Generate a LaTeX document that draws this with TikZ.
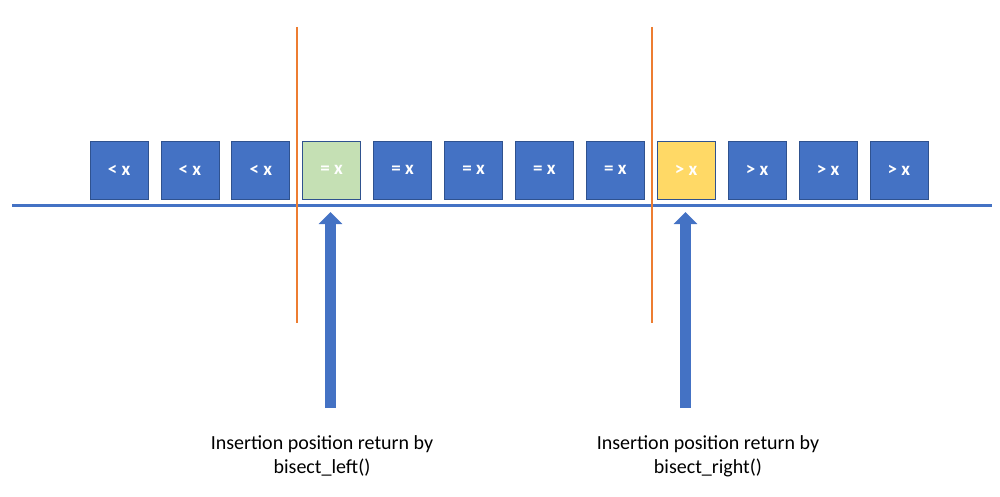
\documentclass[tikz,border=0pt]{standalone}
\usepackage{fontspec}
\setmainfont{Carlito}
\usetikzlibrary{arrows.meta}

\definecolor{cellblue}{HTML}{4472C4}
\definecolor{cellline}{HTML}{2F528F}
\definecolor{cellgreen}{HTML}{C5E0B4}
\definecolor{cellyellow}{HTML}{FFD966}
\definecolor{cutorange}{HTML}{ED7D31}

\begin{document}
\begin{tikzpicture}[x=1pt,y=-1pt,
    cell/.style={draw=cellline, line width=0.8pt, text=white,
                 minimum size=58pt, inner sep=0pt,
                 font=\fontsize{19}{24}\selectfont\bfseries},
    cut/.style={draw=cutorange, line width=2pt},
    pointer/.style={draw=cellblue, line width=11pt,
                    -{Triangle[width=23pt,length=12pt]}},
    caption/.style={align=center, font=\fontsize{20}{24}\selectfont}]
  \useasboundingbox (0,0) rectangle (1000,497);

  % the cells of the sorted list
  \foreach \lbl/\col [count=\i from 0] in
      {</cellblue,</cellblue,</cellblue,=/cellgreen,=/cellblue,=/cellblue,
       =/cellblue,=/cellblue,>/cellyellow,>/cellblue,>/cellblue,>/cellblue}
    \node[cell, fill=\col] (c\i) at (119+70.9*\i,170) {\lbl\ x};

  % base line
  \coordinate (base-l) at (12,205);
  \coordinate (base-r) at (992,205);
  \draw[cellblue, line width=3pt] (base-l) -- (base-r);

  % cut positions
  \coordinate (cutl-top) at (297,27);
  \coordinate (cutl-bot) at (297,323);
  \coordinate (cutr-top) at (652,27);
  \coordinate (cutr-bot) at (652,323);
  \draw[cut] (cutl-top) -- (cutl-bot);
  \draw[cut] (cutr-top) -- (cutr-bot);

  % pointers
  \coordinate (ptrl-tail) at (330.5,408);
  \coordinate (ptrl-tip)  at (330.5,212);
  \coordinate (ptrr-tail) at (685.5,408);
  \coordinate (ptrr-tip)  at (685.5,212);
  \draw[pointer] (ptrl-tail) -- (ptrl-tip);
  \draw[pointer] (ptrr-tail) -- (ptrr-tip);

  \node[caption] (capl) at (322,456) {Insertion position return by\\bisect\_left()};
  \node[caption] (capr) at (708,456) {Insertion position return by\\bisect\_right()};
\end{tikzpicture}
\end{document}
